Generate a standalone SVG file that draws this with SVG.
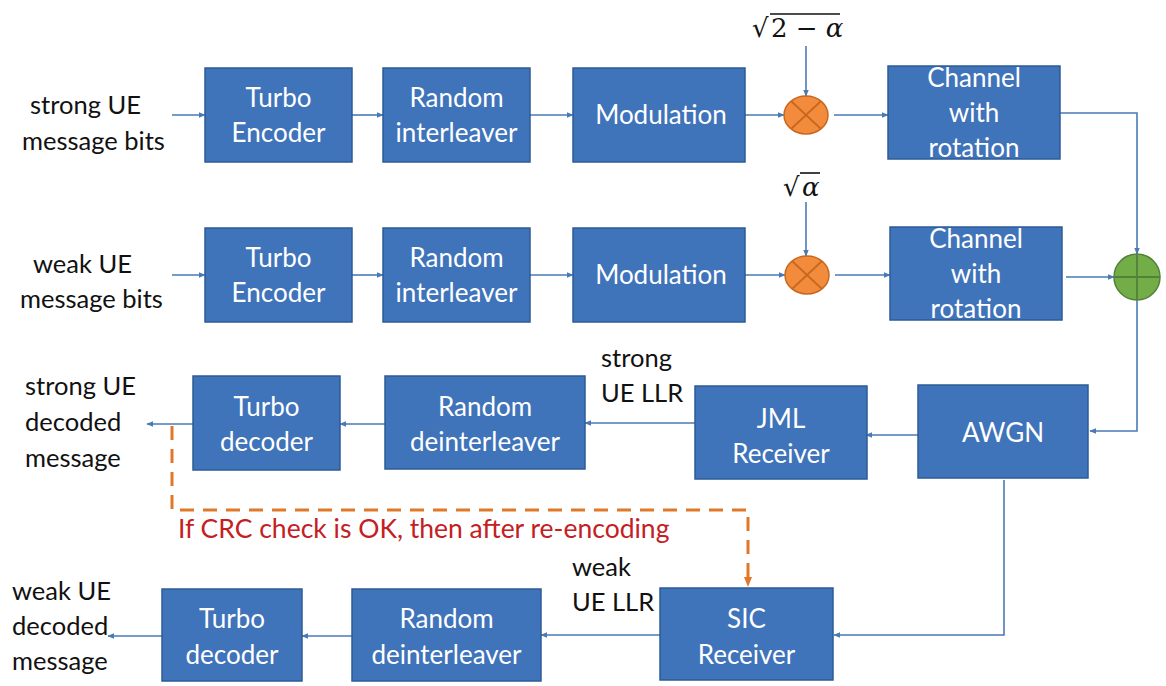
<svg xmlns="http://www.w3.org/2000/svg" width="1166" height="686" viewBox="0 0 1166 686">
  <style>
    .box { fill: #3f73ba; stroke: #2e5b97; stroke-width: 1.5; }
    .bt { font-family: Lato, "Open Sans", sans-serif; font-size: 26px; fill: #ffffff; text-anchor: middle; }
    .lbl { font-family: Lato, "Open Sans", sans-serif; font-size: 25.5px; fill: #111111; }
    .wire { fill: none; stroke: #4a7ab5; stroke-width: 1.6; }
    .math { font-family: "DejaVu Serif", "Liberation Serif", serif; font-size: 26px; fill: #111111; }
    .mi { font-family: "DejaVu Serif", "Liberation Serif", serif; font-style: italic; font-size: 26px; fill: #111111; }
  </style>
  <defs>
    <marker id="ah" viewBox="0 0 10 10" refX="9" refY="5" markerWidth="7" markerHeight="7" orient="auto" markerUnits="userSpaceOnUse">
      <path d="M0,1 L10,5 L0,9 Z" fill="#4a7ab5"/>
    </marker>
    <marker id="aho" viewBox="0 0 10 10" refX="9" refY="5" markerWidth="10" markerHeight="10" orient="auto" markerUnits="userSpaceOnUse">
      <path d="M0,1 L10,5 L0,9 Z" fill="#e0782a"/>
    </marker>
  </defs>
  <rect width="1166" height="686" fill="#ffffff"/>

  <!-- connectors -->
  <g id="connectors">
    <line class="wire" x1="172" y1="115" x2="205" y2="115" marker-end="url(#ah)"/>
    <line class="wire" x1="352" y1="115" x2="383" y2="115" marker-end="url(#ah)"/>
    <line class="wire" x1="530" y1="115" x2="573" y2="115" marker-end="url(#ah)"/>
    <line class="wire" x1="745" y1="115" x2="784" y2="115" marker-end="url(#ah)"/>
    <line class="wire" x1="806" y1="46" x2="806" y2="96" marker-end="url(#ah)"/>
    <line class="wire" x1="834" y1="115" x2="888" y2="115" marker-end="url(#ah)"/>
    <polyline class="wire" points="1060,113 1137,113 1137,254" marker-end="url(#ah)"/>

    <line class="wire" x1="172" y1="275" x2="205" y2="275" marker-end="url(#ah)"/>
    <line class="wire" x1="352" y1="275" x2="383" y2="275" marker-end="url(#ah)"/>
    <line class="wire" x1="530" y1="275" x2="573" y2="275" marker-end="url(#ah)"/>
    <line class="wire" x1="745" y1="275" x2="785" y2="275" marker-end="url(#ah)"/>
    <line class="wire" x1="806" y1="202" x2="806" y2="256" marker-end="url(#ah)"/>
    <line class="wire" x1="835" y1="275" x2="890" y2="275" marker-end="url(#ah)"/>
    <line class="wire" x1="1066" y1="277" x2="1114" y2="277" marker-end="url(#ah)"/>

    <polyline class="wire" points="1137,300 1137,431 1090,431" marker-end="url(#ah)"/>
    <line class="wire" x1="918" y1="435" x2="866" y2="435" marker-end="url(#ah)"/>
    <line class="wire" x1="695" y1="423" x2="585" y2="423" marker-end="url(#ah)"/>
    <line class="wire" x1="385" y1="424" x2="340" y2="424" marker-end="url(#ah)"/>
    <line class="wire" x1="193" y1="424" x2="147" y2="424" marker-end="url(#ah)"/>

    <polyline class="wire" points="1004,480 1004,635 834,635" marker-end="url(#ah)"/>
    <line class="wire" x1="660" y1="635" x2="541" y2="635" marker-end="url(#ah)"/>
    <line class="wire" x1="352" y1="636" x2="302" y2="636" marker-end="url(#ah)"/>
    <line class="wire" x1="162" y1="636" x2="108" y2="636" marker-end="url(#ah)"/>

    <polyline points="172,426 172,510 748,510 748,586" fill="none" stroke="#e0782a" stroke-width="3" stroke-dasharray="14,9" marker-end="url(#aho)"/>
  </g>

  <!-- strong UE transmit chain -->
  <g id="enc1"><rect class="box" x="205" y="68" width="147" height="94"/><text class="bt" x="278.5" y="107">Turbo</text><text class="bt" x="278.5" y="142">Encoder</text></g>
  <g id="int1"><rect class="box" x="383" y="68" width="147" height="94"/><text class="bt" x="456.5" y="107">Random</text><text class="bt" x="456.5" y="142">interleaver</text></g>
  <g id="mod1"><rect class="box" x="573" y="68" width="172" height="94"/><text class="bt" x="661" y="124">Modulation</text></g>
  <g id="mul1">
    <ellipse cx="806" cy="115" rx="22" ry="19" fill="#f28c3c" stroke="#c8671f" stroke-width="1.5"/>
    <line x1="791" y1="101" x2="821" y2="129" stroke="#c8671f" stroke-width="1.8"/>
    <line x1="821" y1="101" x2="791" y2="129" stroke="#c8671f" stroke-width="1.8"/>
  </g>
  <g id="gain1">
    <text class="math" x="752" y="37">√</text>
    <line x1="770" y1="14" x2="840" y2="14" stroke="#111111" stroke-width="1.6"/>
    <text class="math" x="771" y="37">2 − <tspan class="mi">α</tspan></text>
  </g>
  <g id="ch1"><rect class="box" x="888" y="66" width="172" height="93"/><text class="bt" x="974" y="87">Channel</text><text class="bt" x="974" y="122">with</text><text class="bt" x="974" y="157">rotation</text></g>

  <!-- weak UE transmit chain -->
  <g id="enc2"><rect class="box" x="205" y="228" width="147" height="94"/><text class="bt" x="278.5" y="267">Turbo</text><text class="bt" x="278.5" y="302">Encoder</text></g>
  <g id="int2"><rect class="box" x="383" y="228" width="147" height="94"/><text class="bt" x="456.5" y="267">Random</text><text class="bt" x="456.5" y="302">interleaver</text></g>
  <g id="mod2"><rect class="box" x="573" y="228" width="172" height="94"/><text class="bt" x="661" y="284">Modulation</text></g>
  <g id="mul2">
    <ellipse cx="807" cy="275" rx="22" ry="19" fill="#f28c3c" stroke="#c8671f" stroke-width="1.5"/>
    <line x1="792" y1="261" x2="822" y2="289" stroke="#c8671f" stroke-width="1.8"/>
    <line x1="822" y1="261" x2="792" y2="289" stroke="#c8671f" stroke-width="1.8"/>
  </g>
  <g id="gain2">
    <text class="math" x="783" y="196">√</text>
    <line x1="800" y1="173" x2="820" y2="173" stroke="#111111" stroke-width="1.6"/>
    <text class="mi" x="802" y="196">α</text>
  </g>
  <g id="ch2"><rect class="box" x="890" y="227" width="172" height="93"/><text class="bt" x="976" y="248">Channel</text><text class="bt" x="976" y="283">with</text><text class="bt" x="976" y="318">rotation</text></g>
  <g id="sum">
    <circle cx="1137" cy="277" r="23" fill="#72ad47" stroke="#53813a" stroke-width="1.5"/>
    <line x1="1114" y1="277" x2="1160" y2="277" stroke="#53813a" stroke-width="1.8"/>
    <line x1="1137" y1="254" x2="1137" y2="300" stroke="#53813a" stroke-width="1.8"/>
  </g>

  <!-- receive chains -->
  <g id="awgn"><rect class="box" x="918" y="385" width="170" height="93"/><text class="bt" x="1003" y="442">AWGN</text></g>
  <g id="jml"><rect class="box" x="695" y="386" width="172" height="93"/><text class="bt" x="781" y="428">JML</text><text class="bt" x="781" y="463">Receiver</text></g>
  <g id="deint1"><rect class="box" x="385" y="376" width="200" height="93"/><text class="bt" x="485" y="416">Random</text><text class="bt" x="485" y="451">deinterleaver</text></g>
  <g id="dec1"><rect class="box" x="193" y="376" width="147" height="94"/><text class="bt" x="266.5" y="416">Turbo</text><text class="bt" x="266.5" y="451">decoder</text></g>

  <g id="sic"><rect class="box" x="660" y="588" width="173" height="92"/><text class="bt" x="746.5" y="628">SIC</text><text class="bt" x="746.5" y="664">Receiver</text></g>
  <g id="deint2"><rect class="box" x="352" y="589" width="189" height="92"/><text class="bt" x="446.5" y="628">Random</text><text class="bt" x="446.5" y="664">deinterleaver</text></g>
  <g id="dec2"><rect class="box" x="162" y="589" width="140" height="92"/><text class="bt" x="232" y="628">Turbo</text><text class="bt" x="232" y="664">decoder</text></g>

  <!-- labels -->
  <g id="labels">
    <text class="lbl" x="30" y="114">strong UE</text>
    <text class="lbl" x="22" y="150">message bits</text>
    <text class="lbl" x="33" y="273">weak UE</text>
    <text class="lbl" x="20" y="308">message bits</text>
    <text class="lbl" x="601" y="367">strong</text>
    <text class="lbl" x="601" y="402">UE LLR</text>
    <text class="lbl" x="25" y="395">strong UE</text>
    <text class="lbl" x="25" y="431">decoded</text>
    <text class="lbl" x="25" y="467">message</text>
    <text class="lbl" x="572" y="576">weak</text>
    <text class="lbl" x="572" y="611">UE LLR</text>
    <text class="lbl" x="12" y="600">weak UE</text>
    <text class="lbl" x="12" y="635">decoded</text>
    <text class="lbl" x="12" y="670">message</text>
    <text x="178" y="538" font-family="Lato, 'Open Sans', sans-serif" font-size="26.5px" fill="#c4201f">If CRC check is OK, then after re-encoding</text>
  </g>
</svg>
